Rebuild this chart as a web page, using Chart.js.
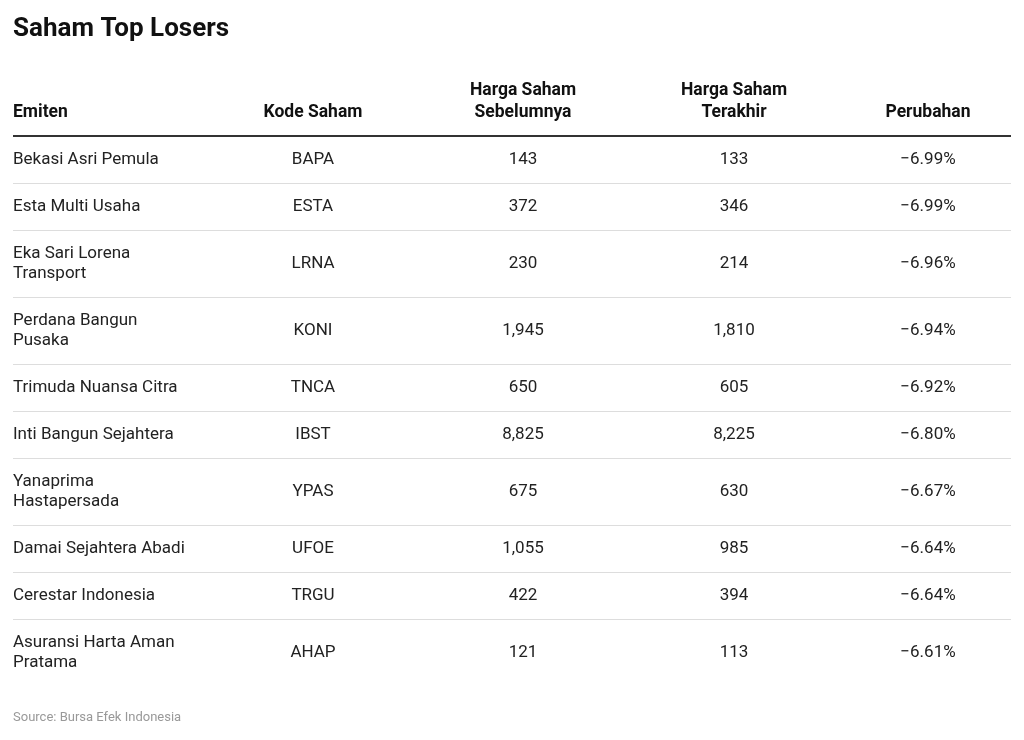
<!DOCTYPE html>
<html><head><meta charset="utf-8">
<script src="https://cdn.jsdelivr.net/npm/chart.js@4"></script>
<style>html,body{margin:0;padding:0;background:#fff}#w{width:1024px;height:740px}</style>
</head><body><div id="w"><canvas id="c"></canvas></div>
<script>
const title = "Saham Top Losers";
const source = "Source: Bursa Efek Indonesia";
const headers = [["Emiten"],["Kode Saham"],["Harga Saham","Sebelumnya"],["Harga Saham","Terakhir"],["Perubahan"]];
const emiten = [["Bekasi Asri Pemula"],["Esta Multi Usaha"],["Eka Sari Lorena","Transport"],["Perdana Bangun","Pusaka"],["Trimuda Nuansa Citra"],["Inti Bangun Sejahtera"],["Yanaprima","Hastapersada"],["Damai Sejahtera Abadi"],["Cerestar Indonesia"],["Asuransi Harta Aman","Pratama"]];
const kode = ["BAPA","ESTA","LRNA","KONI","TNCA","IBST","YPAS","UFOE","TRGU","AHAP"];
const hargaSebelum = [143,372,230,1945,650,8825,675,1055,422,121];
const hargaTerakhir = [133,346,214,1810,605,8225,630,985,394,113];
const perubahan = [-6.99,-6.99,-6.96,-6.94,-6.92,-6.80,-6.67,-6.64,-6.64,-6.61];

const colX = [13,313,523,734,928];
const colAlign = ['left','center','center','center','center'];
const fmt = n => n.toLocaleString('en-US');
const pct = n => '\u2212' + Math.abs(n).toFixed(2) + '%';

const tablePlugin = {
  id:'table',
  afterDraw(chart){
    const ctx = chart.ctx, X = chart.scales.x, Y = chart.scales.y;
    const px = v => X.getPixelForValue(v), py = v => Y.getPixelForValue(v);
    ctx.save();
    ctx.textBaseline = 'middle';
    ctx.fillStyle = '#111';
    ctx.font = 'bold 26px Roboto';
    ctx.textAlign = 'left';
    ctx.fillText(title, px(13), py(29));
    ctx.font = 'bold 17.5px Roboto';
    headers.forEach((h,i)=>{
      ctx.textAlign = colAlign[i];
      const base = 113 - (h.length-1)*22;
      h.forEach((t,j)=>ctx.fillText(t, px(colX[i]), py(base + j*22)));
    });
    ctx.strokeStyle = '#333'; ctx.lineWidth = 2;
    ctx.beginPath(); ctx.moveTo(px(13),py(136)); ctx.lineTo(px(1011),py(136)); ctx.stroke();
    let top = 137;
    ctx.font = '17px Roboto';
    ctx.fillStyle = '#222';
    emiten.forEach((e,r)=>{
      const h = e.length>1 ? 67 : 47;
      const cy = top + h/2 - 1;
      ctx.textAlign = 'left';
      e.forEach((t,j)=>ctx.fillText(t, px(13), py(cy + (j-(e.length-1)/2)*20.5)));
      const vals = [kode[r], fmt(hargaSebelum[r]), fmt(hargaTerakhir[r]), pct(perubahan[r])];
      vals.forEach((v,i)=>{ ctx.textAlign='center'; ctx.fillText(v, px(colX[i+1]), py(cy)); });
      top += h;
      if (r < emiten.length-1){
        ctx.strokeStyle = '#ddd'; ctx.lineWidth = 1;
        ctx.beginPath(); ctx.moveTo(px(13),py(top-0.5)); ctx.lineTo(px(1011),py(top-0.5)); ctx.stroke();
      }
    });
    ctx.font = '13px Roboto'; ctx.fillStyle = '#999'; ctx.textAlign='left';
    ctx.fillText(source, px(13), py(718));
    ctx.restore();
  }
};

new Chart(document.getElementById('c'), {
  type:'scatter',
  data:{datasets:[{data:[]}]},
  options:{
    responsive:true, maintainAspectRatio:false, animation:false,
    layout:{padding:0},
    plugins:{legend:{display:false}, tooltip:{enabled:false}},
    scales:{
      x:{type:'linear', min:0, max:1024, display:false},
      y:{type:'linear', min:0, max:740, reverse:true, display:false}
    }
  },
  plugins:[tablePlugin]
});
</script></body></html>
